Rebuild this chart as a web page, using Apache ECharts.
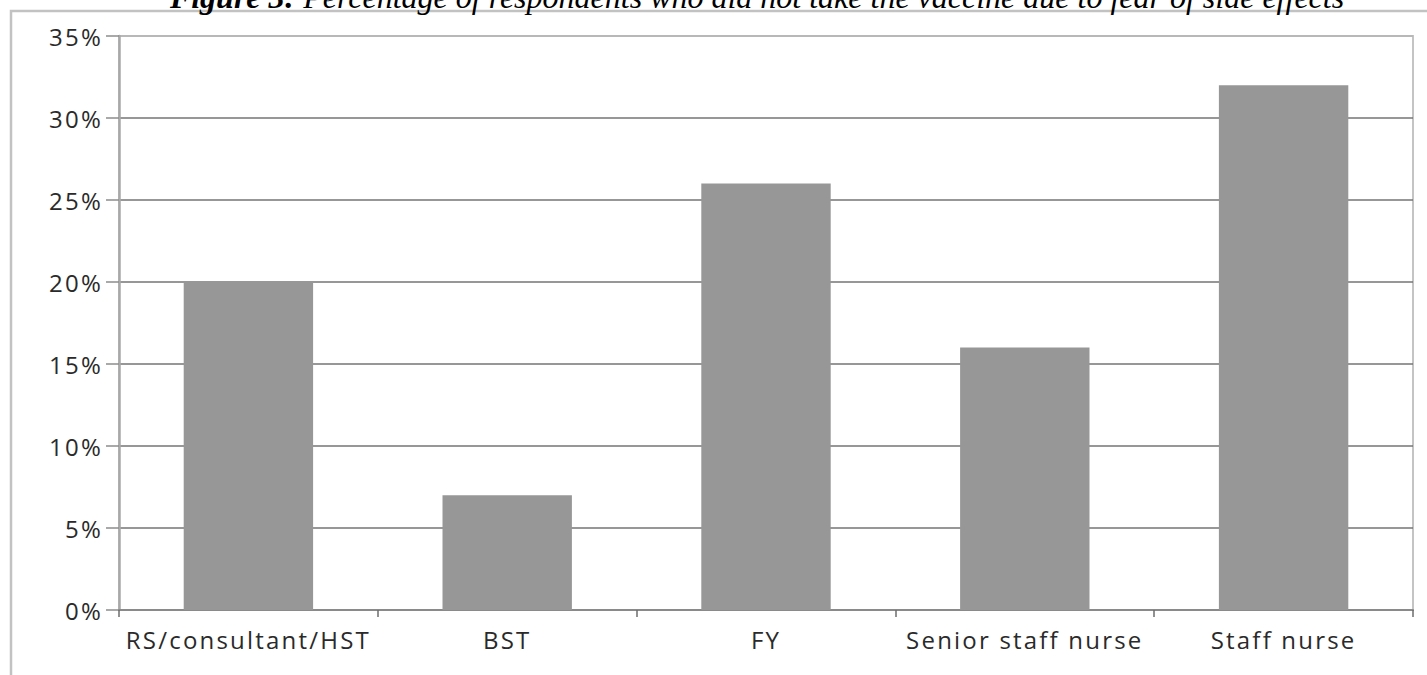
<!DOCTYPE html>
<html>
<head>
<meta charset="utf-8">
<title>Fear of side effects by staff group</title>
<script src="https://cdn.jsdelivr.net/npm/echarts@6/dist/echarts.min.js"></script>
<style>
  html, body { margin: 0; padding: 0; background: #ffffff; }
  #chart { width: 1427px; height: 675px; }
  /* widen the sans-serif axis text a little */
  #chart text[style*="Open Sans"] { letter-spacing: 2.2px; }
</style>
</head>
<body>
<div id="chart"></div>
<script>
// Staff groups along the x axis
const categories = ['RS/consultant/HST', 'BST', 'FY', 'Senior staff nurse', 'Staff nurse'];
// Share of respondents (%) who did not take the vaccine due to fear of side effects
const values = [20, 7, 26, 16, 32];
// Value axis range (%)
const yMin = 0;
const yMax = 35;
const yStep = 5;

const titleBold = 'Figure 3:';
const titleRest = ' Percentage of respondents who did not take the vaccine due to fear of side effects';

const chart = echarts.init(document.getElementById('chart'), null, { renderer: 'svg' });

const sansFont = '"Open Sans", "Noto Sans", sans-serif';
const serifFont = '"Liberation Serif", "DejaVu Serif", serif';

// split line colours: darker interior gridlines, lighter top border line
const splitColors = [];
for (let v = yMin; v <= yMax; v += yStep) {
  splitColors.push(v === yMax ? '#b4b4b4' : '#747474');
}

chart.setOption({
  animation: false,
  backgroundColor: '#ffffff',
  grid: {
    left: 119,
    right: 14,
    top: 36,
    bottom: 65,
    show: true,
    borderColor: '#c4c4c4',
    borderWidth: 2,
    backgroundColor: 'transparent'
  },
  xAxis: {
    type: 'category',
    data: categories,
    boundaryGap: true,
    axisLine: { show: true, lineStyle: { color: '#8a8a8a', width: 2 } },
    axisTick: { show: true, length: 7, inside: false, lineStyle: { color: '#6c6c6c', width: 1.5 } },
    axisLabel: {
      margin: 17,
      fontFamily: sansFont,
      fontSize: 24,
      color: '#2a2a2a',
      interval: 0
    },
    splitLine: { show: false }
  },
  yAxis: {
    type: 'value',
    min: yMin,
    max: yMax,
    interval: yStep,
    axisLine: { show: true, lineStyle: { color: '#a8a8a8', width: 2.5 } },
    axisTick: { show: true, length: 13, lineStyle: { color: '#8c8c8c', width: 1.5 } },
    axisLabel: {
      margin: 16,
      fontFamily: sansFont,
      fontSize: 24,
      color: '#2a2a2a',
      formatter: '{value}%'
    },
    splitLine: { show: true, lineStyle: { color: splitColors, width: 1.6 } }
  },
  series: [{
    type: 'bar',
    data: values,
    barWidth: '50%',
    itemStyle: { color: '#979797' }
  }],
  graphic: [
    {
      // outer frame around the figure
      type: 'rect',
      silent: true,
      shape: { x: 11, y: 11, width: 1440, height: 700 },
      style: { fill: 'none', stroke: '#c2c2c2', lineWidth: 2.5 },
      z: -10
    },
    {
      type: 'text',
      silent: true,
      x: 757,
      y: -3,
      style: {
        text: '{b|' + titleBold + '}{n|' + titleRest + '}',
        align: 'center',
        verticalAlign: 'middle',
        rich: {
          b: { fontFamily: serifFont, fontSize: 32, fontStyle: 'italic', fontWeight: 'bold', fill: '#000000' },
          n: { fontFamily: serifFont, fontSize: 32, fontStyle: 'italic', fill: '#000000' }
        }
      }
    }
  ]
});
</script>
</body>
</html>
